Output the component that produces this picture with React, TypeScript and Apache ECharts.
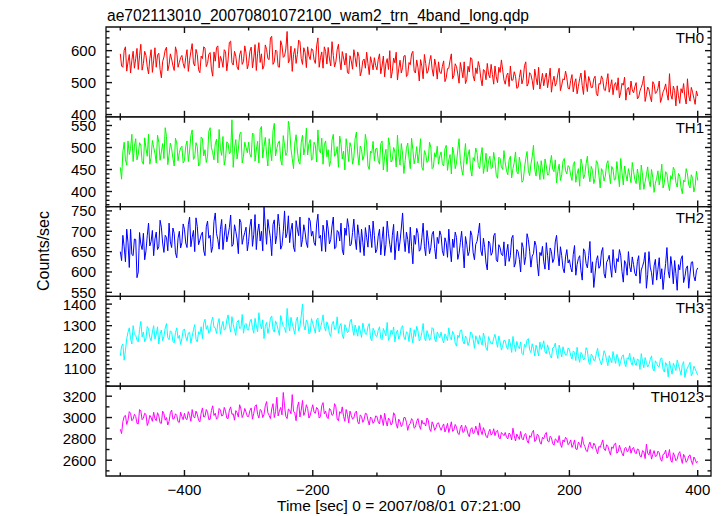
import React, { useEffect, useRef } from "react";
import * as echarts from "echarts";

const FONT = '"Liberation Sans", Arial, Helvetica, sans-serif';

const chartTitle = "ae702113010_20070801072100_wam2_trn_4band_long.qdp";
const xAxisTitle = "Time [sec] 0 = 2007/08/01 07:21:00";
const yAxisTitle = "Counts/sec";
const bandNames = ["TH0", "TH1", "TH2", "TH3", "TH0123"];
const bandColors = ["#ff0000", "#00ff00", "#0000ff", "#00ffff", "#ff00ff"];

// time sampling of the light curves (sec)
const T_START = -500;
const T_STEP = 2;

const xMajorTicks = [-400, -200, 0, 200, 400];
const xMinorTicks = [-500, -300, -100, 100, 300];
const xRange = [-522.3, 420.7];

const yMajorTicks = [
  [400, 500, 600],
  [400, 450, 500, 550],
  [550, 600, 650, 700, 750],
  [1100, 1200, 1300, 1400],
  [2600, 2800, 3000, 3200],
];
const yMinorStep = [20, 10, 10, 20, 100];
const yRanges = [
  [393, 674],
  [365.7, 569.8],
  [540, 760.6],
  [1019.4, 1435.7],
  [2452, 3293.7],
];

const th0 = [
  590,552, 548,601, 612,536, 565,588, 530,570, 598,545, 575,607, 541,584, 620,539, 560,598, 585,550, 527,575, 603,532, 570,609, 548,586, 592,541, 515,566, 580,602, 611,537, 556,590, 574,553, 538,612, 596,548, 563,578, 585,560,
  545,579, 603,535, 570,598, 622,561, 552,604, 588,540, 531,583, 575,612, 608,550, 560,589, 594,542, 520,596, 567,610, 615,546, 582,571, 548,603, 597,537, 571,626, 630,562, 555,598, 583,549, 540,587, 600,557, 566,615, 592,543,
  560,598, 611,546, 577,619, 538,590, 625,563, 590,542, 553,618, 604,575, 572,640, 645,557, 565,602, 598,550, 548,631, 616,579, 583,605, 660,562, 570,614, 535,588, 607,560, 588,633, 628,575, 557,609, 595,547, 612,583, 572,606,
  603,571, 560,615, 640,548, 578,596, 545,612, 598,558, 610,574, 552,628, 585,549, 565,603, 620,571, 540,597, 577,555, 592,531, 528,584, 568,542, 603,579, 550,596, 582,521, 536,568, 574,545, 595,560, 525,581, 562,540, 578,553,
  540,572, 590,528, 552,583, 518,560, 575,541, 600,514, 535,577, 562,595, 508,544, 570,530, 548,583, 585,519, 525,563, 556,590, 598,536, 530,571, 547,505, 572,551, 512,588, 560,529, 538,566, 585,543, 520,574, 552,511, 565,533,
  528,551, 568,503, 515,544, 545,570, 590,512, 522,559, 550,527, 498,563, 540,515, 565,497, 510,551, 533,578, 575,521, 505,546, 528,566, 548,512, 490,541, 537,509, 560,526, 515,557, 525,495, 552,518, 500,548, 532,571, 540,508,
  495,522, 530,488, 552,507, 508,534, 520,482, 485,516, 540,496, 512,553, 565,489, 498,531, 525,507, 478,542, 515,493, 548,480, 502,529, 490,515, 530,484, 512,545, 470,503, 520,489, 500,527, 545,475, 492,512, 508,536, 515,482,
  480,507, 525,471, 498,512, 465,488, 512,530, 490,463, 538,501, 472,519, 505,484, 485,512, 520,466, 458,497, 495,521, 510,478, 475,503, 528,470, 488,509, 462,493, 500,476, 515,452, 470,498, 492,517, 445,480, 485,462, 505,477,
  468,487, 500,449, 455,474, 485,498, 520,441, 462,486, 478,455, 440,503, 495,466, 470,482, 505,438, 452,471, 480,496, 465,445, 528,463, 448,489, 475,427, 490,459, 435,481, 468,497, 455,433, 512,460, 442,485, 470,451, 432,474,
  458,
];

const th1 = [
  455,428, 490,512, 472,460, 515,484, 498,530, 468,503, 520,472, 485,511, 505,467, 462,522, 498,480, 530,462, 478,516, 500,487, 465,528, 512,471, 490,509, 475,545, 525,461, 483,510, 497,476, 458,521, 510,470, 488,499, 503,465,
  470,503, 515,468, 492,527, 540,473, 478,511, 502,458, 462,524, 520,481, 495,466, 480,537, 545,500, 488,472, 508,519, 465,541, 498,482, 525,460, 475,513, 510,486, 490,563, 455,497, 518,474, 496,530, 535,465, 480,512, 500,488,
  512,485, 478,533, 530,469, 495,514, 465,541, 548,476, 502,523, 485,458, 520,495, 470,538, 555,481, 498,510, 515,472, 460,527, 505,482, 488,560, 540,497, 475,452, 510,529, 492,468, 462,511, 528,483, 500,544, 483,509, 518,471,
  475,512, 505,467, 540,494, 488,521, 462,506, 515,479, 495,457, 470,517, 530,480, 485,502, 455,526, 508,474, 492,449, 520,498, 468,511, 500,462, 478,520, 535,485, 460,503, 495,471, 482,530, 510,458, 450,492, 488,514, 470,497,
  498,471, 462,509, 515,449, 480,496, 445,522, 505,467, 472,500, 490,456, 528,483, 460,509, 485,441, 470,498, 510,476, 452,521, 495,463, 478,502, 465,487, 520,455, 448,493, 485,466, 470,512, 500,452, 455,488, 478,503, 462,481,
  490,463, 458,497, 505,448, 472,484, 440,501, 485,452, 465,494, 520,471, 450,437, 478,509, 462,483, 495,451, 435,477, 470,499, 488,459, 452,482, 500,441, 460,487, 445,470, 480,452, 455,489, 468,437, 430,478, 475,456, 450,493,
  465,447, 438,472, 480,431, 452,466, 490,445, 440,478, 460,421, 425,453, 475,491, 448,436, 462,479, 505,450, 435,468, 455,427, 470,449, 428,474, 458,437, 440,463, 482,451, 445,472, 420,446, 462,425, 438,469, 475,447, 440,459,
  455,437, 425,461, 468,421, 440,452, 412,474, 460,429, 438,463, 480,441, 422,457, 448,418, 430,470, 465,437, 408,452, 445,424, 435,462, 470,441, 418,457, 450,426, 428,468, 440,411, 475,443, 415,458, 438,424, 452,437, 420,466,
  445,427, 418,451, 432,404, 460,437, 405,422, 438,456, 425,411, 450,432, 398,419, 430,447, 415,433, 462,408, 420,445, 440,417, 402,436, 428,455, 448,420, 410,441, 435,409, 395,426, 422,452, 440,415, 408,438, 430,399, 412,446,
  425,
];

const th2 = [
  650,628, 690,662, 625,705, 672,611, 705,643, 640,681, 680,586, 600,697, 668,655, 695,630, 652,689, 720,664, 675,702, 640,681, 698,655, 662,727, 710,671, 648,690, 685,652, 720,674, 660,708, 695,647, 635,683, 700,659, 672,718,
  705,671, 660,716, 735,662, 685,702, 650,733, 712,667, 678,691, 698,652, 640,711, 725,683, 690,648, 662,724, 745,694, 680,656, 705,729, 655,688, 718,674, 690,709, 740,663, 668,716, 700,681, 645,730, 722,668, 685,697, 710,652,
  675,712, 730,663, 692,741, 655,698, 718,676, 700,652, 760,711, 668,729, 705,683, 640,717, 728,669, 690,742, 712,656, 665,700, 750,684, 695,738, 672,703, 720,661, 650,726, 705,689, 735,662, 680,716, 698,671, 660,733, 725,688,
  700,672, 665,718, 742,683, 690,651, 715,696, 650,727, 705,669, 680,713, 735,657, 660,702, 698,676, 720,654, 642,708, 690,731, 710,664, 668,697, 730,682, 655,716, 690,648, 705,673, 640,709, 685,661, 715,694, 660,725, 690,647,
  655,688, 705,642, 680,711, 640,667, 725,694, 668,648, 690,717, 630,672, 700,652, 675,708, 745,683, 650,698, 680,646, 710,662, 620,690, 668,707, 695,651, 655,684, 720,663, 640,702, 678,645, 660,693, 700,658, 632,685, 670,701,
  690,652, 640,684, 672,636, 705,659, 625,681, 660,698, 685,631, 645,672, 700,658, 610,687, 668,640, 650,701, 690,647, 630,668, 675,695, 720,652, 640,683, 660,622, 605,676, 670,641, 648,689, 695,630, 625,667, 660,643, 640,674,
  615,647, 668,626, 640,683, 690,612, 622,655, 650,631, 600,672, 660,618, 638,694, 680,651, 612,639, 645,676, 665,620, 590,648, 640,663, 625,607, 672,641, 605,659, 650,623, 632,674, 690,645, 615,662, 640,609, 598,637, 655,622,
  630,611, 600,643, 665,592, 618,633, 640,603, 580,657, 650,621, 610,640, 675,598, 625,562, 595,628, 640,609, 615,649, 660,596, 585,624, 630,641, 612,587, 655,617, 598,633, 625,655, 640,601, 575,628, 620,592, 650,613, 600,637,
  618,597, 590,626, 640,572, 605,614, 625,648, 560,593, 650,612, 598,569, 615,631, 580,607, 635,583, 608,557, 592,621, 660,602, 585,638, 612,571, 628,596, 555,618, 605,632, 640,574, 588,609, 615,560, 595,624, 625,589, 578,603,
  610,
];

const th3 = [
  1160,1205, 1215,1140, 1185,1240, 1270,1290, 1240,1215, 1300,1262, 1255,1233, 1225,1282, 1320,1248, 1270,1226, 1240,1296, 1285,1245, 1230,1271, 1300,1238, 1260,1295, 1215,1262, 1280,1231, 1250,1289, 1310,1244, 1235,1276, 1270,1228, 1220,1268, 1290,1241, 1255,1213, 1240,1279,
  1285,1248, 1230,1266, 1270,1219, 1250,1281, 1305,1237, 1225,1272, 1260,1295, 1240,1312, 1330,1284, 1300,1265, 1275,1318, 1340,1292, 1290,1264, 1310,1333, 1260,1297, 1320,1279, 1285,1326, 1350,1301, 1270,1342, 1305,1280, 1255,1316, 1325,1287, 1290,1352, 1265,1304, 1310,1281,
  1280,1318, 1330,1291, 1265,1334, 1300,1272, 1360,1309, 1285,1327, 1240,1298, 1315,1264, 1290,1335, 1345,1283, 1270,1322, 1305,1281, 1255,1347, 1320,1296, 1290,1268, 1380,1314, 1275,1339, 1310,1285, 1260,1322, 1340,1276, 1295,1345, 1400,1301, 1280,1326, 1315,1262, 1270,1333,
  1310,1289, 1265,1327, 1335,1271, 1290,1314, 1350,1296, 1275,1318, 1300,1262, 1250,1307, 1320,1283, 1285,1341, 1265,1298, 1310,1257, 1240,1305, 1290,1268, 1275,1317, 1330,1287, 1255,1303, 1280,1251, 1300,1276, 1245,1312, 1285,1262, 1260,1296, 1310,1243, 1230,1288, 1275,1254,
  1250,1278, 1295,1241, 1235,1287, 1270,1253, 1315,1232, 1245,1279, 1260,1294, 1225,1266, 1280,1238, 1255,1291, 1300,1248, 1235,1272, 1265,1226, 1290,1253, 1220,1281, 1250,1297, 1275,1229, 1240,1268, 1310,1244, 1230,1277, 1260,1232, 1245,1291, 1285,1238, 1225,1271, 1255,1244,
  1270,1238, 1220,1262, 1250,1231, 1290,1247, 1235,1274, 1260,1219, 1205,1256, 1245,1278, 1280,1228, 1215,1252, 1240,1208, 1225,1271, 1265,1236, 1195,1253, 1235,1214, 1255,1231, 1210,1266, 1240,1197, 1185,1249, 1230,1217, 1215,1242, 1260,1228, 1200,1252, 1225,1187, 1205,1233,
  1230,1201, 1190,1238, 1215,1176, 1250,1212, 1180,1227, 1205,1193, 1225,1171, 1165,1213, 1200,1234, 1240,1188, 1175,1216, 1195,1159, 1210,1187, 1160,1224, 1190,1205, 1230,1178, 1170,1211, 1185,1162, 1150,1197, 1200,1219, 1175,1148, 1210,1186, 1155,1202, 1180,1163, 1165,1197,
  1190,1162, 1145,1183, 1175,1138, 1200,1157, 1130,1176, 1165,1141, 1150,1198, 1185,1132, 1120,1168, 1160,1139, 1140,1172, 1195,1153, 1135,1118, 1150,1184, 1170,1139, 1115,1161, 1145,1128, 1180,1149, 1125,1167, 1150,1112, 1135,1158, 1165,1126, 1110,1151, 1145,1172, 1130,1117,
  1155,1128, 1115,1146, 1140,1097, 1170,1134, 1105,1152, 1130,1108, 1120,1143, 1160,1101, 1090,1137, 1125,1112, 1110,1147, 1150,1098, 1085,1129, 1115,1063, 1135,1104, 1075,1126, 1110,1092, 1140,1119, 1095,1071, 1120,1133, 1060,1089, 1105,1116, 1130,1068, 1080,1112, 1100,1085,
  1070,
];

const th0123 = [
  2890,2850, 2960,3010, 3020,2935, 2975,3055, 3040,2970, 2985,3030, 3010,2945, 2940,3075, 3060,2980, 2995,3040, 3030,2925, 2960,3020, 3000,2965, 3050,2990, 2970,3045, 3015,2950, 2945,3060, 3035,2975, 3000,2930, 2965,3045, 3070,2985, 2990,3035, 3020,2960, 2955,3050, 3010,2980,
  3040,2990, 2980,3055, 3020,2965, 3075,3010, 2995,3060, 3030,2975, 2960,3040, 3090,3005, 3010,3075, 3050,2980, 2985,3065, 3110,3020, 3040,2985, 3000,3085, 3070,3015, 3020,3095, 3060,2995, 2990,3070, 3100,3030, 3035,2975, 3065,3045, 3005,3120, 3080,3000, 3030,3085, 3050,3010,
  3010,3065, 3090,2985, 3040,3105, 3120,3030, 2995,3075, 3065,3000, 3030,3110, 3150,3045, 3020,2990, 3080,3130, 3000,3055, 3190,3015, 3060,3095, 3025,3235, 3110,3010, 2990,3080, 3070,3035, 3215,3060, 3040,2970, 3100,3145, 3005,3070, 3160,3020, 3050,3120, 3085,2995, 3020,3075,
  3120,3050, 3040,3095, 3080,2995, 3010,3110, 3140,3035, 3060,3005, 2990,3085, 3070,3020, 3030,3130, 3100,2985, 2970,3055, 3040,3100, 3010,2965, 3075,3030, 2950,3060, 3020,2985, 2995,3045, 3060,2960, 2940,3025, 3010,2955, 2980,3040, 3035,2975, 2930,3005, 2990,2945, 2965,3015,
  3010,2960, 2940,3025, 2985,2925, 3040,2970, 2920,2995, 2975,2930, 2950,3045, 3020,2940, 2900,2985, 2960,2915, 2935,3000, 3000,2955, 2880,2930, 2945,2990, 2970,2900, 2910,2965, 2990,2925, 2890,2975, 2940,2950, 2920,2995, 2975,2895, 2870,2960, 2930,2880, 2905,2945, 2950,2910,
  2880,2915, 2940,2865, 2900,2945, 2860,2905, 2960,2870, 2885,2935, 2910,2855, 2840,2900, 2930,2860, 2870,2925, 2895,2845, 2820,2890, 2905,2850, 2860,2920, 2880,2835, 2950,2875, 2840,2905, 2870,2825, 2810,2860, 2890,2835, 2850,2895, 2830,2870, 2880,2815, 2800,2860, 2845,2830,
  2860,2815, 2800,2855, 2840,2790, 2900,2830, 2780,2845, 2820,2795, 2870,2805, 2790,2840, 2850,2785, 2760,2830, 2815,2860, 2880,2775, 2790,2845, 2830,2770, 2750,2815, 2800,2840, 2860,2780, 2770,2825, 2810,2755, 2740,2800, 2790,2765, 2830,2750, 2720,2790, 2770,2815, 2800,2745,
  2760,2790, 2720,2745, 2790,2705, 2700,2770, 2750,2720, 2820,2755, 2730,2690, 2680,2740, 2770,2725, 2710,2760, 2740,2695, 2660,2730, 2720,2755, 2790,2705, 2690,2745, 2730,2685, 2650,2725, 2710,2750, 2760,2665, 2680,2740, 2700,2665, 2640,2710, 2720,2680, 2690,2735, 2665,2705,
  2720,2675, 2660,2705, 2700,2640, 2630,2690, 2680,2615, 2750,2665, 2650,2700, 2610,2655, 2690,2635, 2640,2685, 2670,2610, 2590,2655, 2660,2695, 2620,2640, 2700,2600, 2580,2670, 2640,2595, 2610,2660, 2680,2620, 2570,2655, 2630,2580, 2600,2640, 2650,2595, 2560,2630, 2610,2575,
  2590,
];

const bandValues = [th0, th1, th2, th3, th0123];

// layout
const GRID_LEFT = 106;
const GRID_RIGHT = 13;
const GRID_TOP = 27;
const PANEL_H = 89.8;
const TICK_MAJOR = 6;
const TICK_MINOR = 3.5;
const AXIS_COLOR = "#111";

function stepValues(min: number, max: number, step: number) {
  const out: number[] = [];
  for (let v = Math.ceil(min / step) * step; v <= max + 1e-9; v += step) out.push(v);
  return out;
}

function fmtX(v: number) {
  return v < 0 ? "\u2212" + Math.abs(v) : String(v);
}

// tick rows: [x value, y value, direction, length]
// direction 0: up from bottom edge, 1: down from top edge, 2: right from left edge, 3: left from right edge
function buildTickRows(i: number) {
  const [ymin, ymax] = yRanges[i];
  const rows: number[][] = [];
  xMajorTicks.forEach((v) => {
    rows.push([v, ymin, 0, TICK_MAJOR]);
    rows.push([v, ymax, 1, TICK_MAJOR]);
  });
  xMinorTicks.forEach((v) => {
    rows.push([v, ymin, 0, TICK_MINOR]);
    rows.push([v, ymax, 1, TICK_MINOR]);
  });
  const majors = yMajorTicks[i];
  stepValues(ymin, ymax, yMinorStep[i]).forEach((v) => {
    const len = majors.indexOf(v) >= 0 ? TICK_MAJOR : TICK_MINOR;
    rows.push([xRange[0], v, 2, len]);
    rows.push([xRange[1], v, 3, len]);
  });
  return rows;
}

function renderTick(params: any, api: any) {
  const x = api.value(0);
  const y = api.value(1);
  const dir = api.value(2);
  const len = api.value(3);
  const p = api.coord([x, y]);
  let x2 = p[0];
  let y2 = p[1];
  if (dir === 0) y2 -= len;
  else if (dir === 1) y2 += len;
  else if (dir === 2) x2 += len;
  else x2 -= len;
  return {
    type: "line",
    shape: { x1: p[0], y1: p[1], x2, y2 },
    style: { stroke: AXIS_COLOR, lineWidth: 1.4 },
    silent: true,
  };
}

function buildOption() {
  const grid: any[] = [];
  const xAxis: any[] = [];
  const yAxis: any[] = [];
  const series: any[] = [];
  const graphic: any[] = [];

  bandNames.forEach((name, i) => {
    const top = GRID_TOP + i * PANEL_H;
    grid.push({
      left: GRID_LEFT,
      right: GRID_RIGHT,
      top,
      height: PANEL_H,
      show: true,
      borderColor: AXIS_COLOR,
      borderWidth: 1.3,
      backgroundColor: "transparent",
    });

    xAxis.push({
      type: "value",
      gridIndex: i,
      position: "bottom",
      min: xRange[0],
      max: xRange[1],
      axisLine: { show: false, onZero: false },
      axisTick: { show: false },
      axisLabel:
        i === bandNames.length - 1
          ? {
              show: true,
              customValues: xMajorTicks,
              formatter: fmtX,
              fontSize: 15,
              fontFamily: FONT,
              color: "#000",
              margin: 6,
            }
          : { show: false },
      splitLine: { show: false },
    });

    const [ymin, ymax] = yRanges[i];
    yAxis.push({
      type: "value",
      gridIndex: i,
      position: "left",
      min: ymin,
      max: ymax,
      axisLine: { show: false, onZero: false },
      axisTick: { show: false },
      axisLabel: {
        show: true,
        customValues: yMajorTicks[i],
        formatter: (v: number) => String(v),
        fontSize: 15,
        fontFamily: FONT,
        color: "#000",
        margin: 10,
      },
      splitLine: { show: false },
    });

    series.push({
      type: "line",
      name,
      xAxisIndex: i,
      yAxisIndex: i,
      data: bandValues[i].map((v, k) => [T_START + k * T_STEP, v]),
      showSymbol: false,
      symbol: "none",
      silent: true,
      z: 2,
      lineStyle: { color: bandColors[i], width: 1 },
      itemStyle: { color: bandColors[i] },
    });

    series.push({
      type: "custom",
      name: name + " ticks",
      xAxisIndex: i,
      yAxisIndex: i,
      coordinateSystem: "cartesian2d",
      encode: { x: 0, y: 1 },
      data: buildTickRows(i),
      renderItem: renderTick,
      silent: true,
      clip: false,
      z: 3,
    });

    graphic.push({
      type: "text",
      x: 704,
      y: top + 10.6,
      style: {
        text: name,
        font: `15px ${FONT}`,
        fill: "#000",
        align: "right",
        verticalAlign: "middle",
      },
    });
  });

  graphic.push({
    type: "text",
    x: 107,
    y: 15.5,
    style: {
      text: chartTitle,
      font: `15.6px ${FONT}`,
      fill: "#000",
      align: "left",
      verticalAlign: "middle",
    },
  });
  graphic.push({
    type: "text",
    x: 277,
    y: 505.5,
    style: {
      text: xAxisTitle,
      font: `15.5px ${FONT}`,
      fill: "#000",
      align: "left",
      verticalAlign: "middle",
    },
  });
  graphic.push({
    type: "text",
    x: 43,
    y: 251,
    rotation: Math.PI / 2,
    style: {
      text: yAxisTitle,
      font: `16px ${FONT}`,
      fill: "#000",
      align: "center",
      verticalAlign: "middle",
    },
  });

  return {
    animation: false,
    backgroundColor: "#fff",
    grid,
    xAxis,
    yAxis,
    series,
    graphic,
  };
}

export default function App() {
  const ref = useRef<HTMLDivElement>(null);
  useEffect(() => {
    if (!ref.current) return;
    const chart = echarts.init(ref.current, undefined, { renderer: "svg" });
    chart.setOption(buildOption() as any);
    return () => chart.dispose();
  }, []);
  return (
    <div
      ref={ref}
      style={{ position: "absolute", left: 0, top: 0, width: 724, height: 516, background: "#fff" }}
    />
  );
}
